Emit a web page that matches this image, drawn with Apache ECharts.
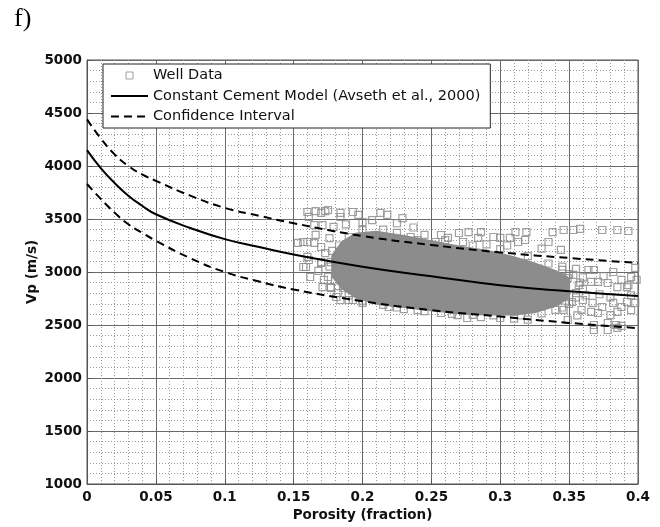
<!DOCTYPE html>
<html>
<head>
<meta charset="utf-8">
<script src="https://cdn.jsdelivr.net/npm/echarts@6/dist/echarts.min.js"></script>
<style>
    html, body { margin: 0; padding: 0; background: #fff; }
    #chart { width: 660px; height: 527px; }
</style>
</head>
<body>
<div id="chart"></div>
<script>
// model curves
var porosityGrid = [0, 0.01, 0.02, 0.03, 0.04, 0.05, 0.075, 0.1, 0.125, 0.15, 0.2, 0.25, 0.3, 0.35, 0.4];
var modelVp = [4150, 3980, 3840, 3720, 3625, 3545, 3415, 3310, 3235, 3165, 3050, 2960, 2875, 2818, 2773];
var upperVp = [4440, 4260, 4110, 4000, 3920, 3860, 3720, 3605, 3530, 3460, 3340, 3255, 3185, 3132, 3085];
var lowerVp = [3830, 3690, 3560, 3450, 3370, 3295, 3130, 3000, 2910, 2835, 2725, 2640, 2580, 2520, 2470];

// outline of the solid grey core of the well-data cloud
var coreTop = [[0.178, 3150], [0.185, 3280], [0.195, 3360], [0.21, 3380], [0.23, 3340], [0.25, 3290],
    [0.27, 3240], [0.29, 3200], [0.31, 3140], [0.325, 3080], [0.34, 3010], [0.35, 2940]];
var coreBottom = [[0.35, 2760], [0.34, 2680], [0.325, 2620], [0.31, 2600], [0.29, 2600], [0.27, 2610],
    [0.25, 2640], [0.23, 2670], [0.21, 2700], [0.195, 2760], [0.185, 2850], [0.178, 2960]];

// single well-data squares around the core
var wellData = [
    [0.160, 3566], [0.166, 3575], [0.173, 3575], [0.175, 3585], [0.184, 3557], [0.193, 3566], [0.197, 3538],
    [0.213, 3557], [0.218, 3538], [0.170, 3557], [0.161, 3520], [0.184, 3519], [0.165, 3443], [0.171, 3443],
    [0.179, 3425], [0.188, 3450], [0.200, 3470], [0.207, 3490], [0.225, 3460], [0.229, 3509], [0.237, 3420],
    [0.153, 3274], [0.157, 3283], [0.160, 3283], [0.165, 3274], [0.170, 3236], [0.173, 3179], [0.160, 3142],
    [0.161, 3113], [0.170, 3094], [0.177, 3094], [0.170, 3085], [0.157, 3047], [0.159, 3047], [0.162, 2953],
    [0.175, 2953], [0.172, 2925], [0.171, 2858], [0.177, 2858], [0.177, 2849], [0.186, 2849], [0.181, 2764],
    [0.184, 2736], [0.190, 2736], [0.193, 2736], [0.200, 2708], [0.219, 2670], [0.166, 3350], [0.176, 3320],
    [0.168, 3010], [0.182, 2800],
    [0.253, 3283], [0.257, 3349], [0.262, 3321], [0.270, 3368], [0.273, 3283], [0.277, 3377], [0.284, 3321],
    [0.286, 3377], [0.295, 3330], [0.300, 3321], [0.307, 3321], [0.311, 3377], [0.313, 3283], [0.245, 3350],
    [0.240, 3300], [0.290, 3260], [0.305, 3250],
    [0.257, 2613], [0.269, 2594], [0.276, 2566], [0.286, 2575], [0.300, 2566], [0.310, 2560], [0.240, 2640],
    [0.230, 2650], [0.320, 2550],
    [0.319, 3377], [0.318, 3302], [0.335, 3283], [0.338, 3377], [0.346, 3396], [0.353, 3396], [0.358, 3406],
    [0.374, 3396], [0.385, 3396], [0.393, 3387], [0.344, 3208], [0.330, 3220],
    [0.364, 3019], [0.368, 3019], [0.382, 3000], [0.395, 2953], [0.388, 2925], [0.371, 2906], [0.378, 2896],
    [0.366, 2906], [0.349, 2943], [0.357, 2877], [0.393, 2877], [0.399, 2925], [0.398, 3038], [0.392, 2858],
    [0.385, 2858], [0.353, 2972], [0.345, 3050], [0.355, 3030], [0.375, 2960],
    [0.342, 2736], [0.352, 2717], [0.360, 2736], [0.367, 2708], [0.374, 2670], [0.382, 2708], [0.388, 2670],
    [0.392, 2717], [0.398, 2708], [0.371, 2613], [0.380, 2594], [0.366, 2623], [0.359, 2642], [0.346, 2642],
    [0.340, 2642], [0.385, 2623], [0.349, 2547], [0.368, 2500], [0.378, 2519], [0.384, 2500], [0.388, 2491],
    [0.368, 2453], [0.378, 2453], [0.385, 2472], [0.355, 2800], [0.362, 2780], [0.372, 2790], [0.395, 2780],
    [0.380, 2760], [0.336, 2700], [0.356, 2590], [0.395, 2640],
    // squares on the ragged rim of the core
    [0.190, 3330], [0.200, 3395], [0.215, 3400], [0.225, 3370], [0.235, 3330], [0.260, 3300], [0.280, 3250],
    [0.300, 3215], [0.320, 3150], [0.335, 3080], [0.345, 3020], [0.350, 2980], [0.360, 2950], [0.358, 2900],
    [0.360, 2840], [0.355, 2760], [0.190, 2780], [0.200, 2730], [0.215, 2690], [0.225, 2665], [0.245, 2630],
    [0.265, 2605], [0.280, 2595], [0.295, 2590], [0.315, 2590], [0.330, 2610], [0.345, 2665], [0.350, 2700],
    [0.178, 3200], [0.176, 3050], [0.180, 2920], [0.183, 3250], [0.186, 2870]
];

var wellName = 'Well Data';
var modelName = 'Constant Cement Model (Avseth et al., 2000)';
var ciName = 'Confidence Interval';

function pairs(xs, ys) {
    return xs.map(function (x, i) { return [x, ys[i]]; });
}

var chart = echarts.init(document.getElementById('chart'));

var axisFont = {
    fontFamily: 'DejaVu Sans',
    fontWeight: 'bold',
    fontSize: 13.5,
    color: '#111'
};
var noDot = { color: 'rgba(0,0,0,0)', borderColor: 'rgba(0,0,0,0)', borderWidth: 0 };

var option = {
    animation: false,
    backgroundColor: '#fff',
    graphic: [{
        type: 'text',
        left: 14,
        top: 6,
        style: {
            text: 'f)',
            font: '26px "Liberation Serif"',
            fill: '#000'
        }
    }],
    grid: {
        left: 87,
        right: 22,
        top: 60,
        bottom: 43,
        show: true,
        borderColor: '#555',
        borderWidth: 1
    },
    legend: {
        orient: 'vertical',
        left: 103,
        top: 64,
        padding: [4, 10, 4, 7],
        itemWidth: 37,
        itemHeight: 7,
        itemGap: 5.5,
        backgroundColor: '#fff',
        borderColor: '#222',
        borderWidth: 1,
        borderRadius: 0,
        textStyle: {
            fontFamily: 'DejaVu Sans',
            fontSize: 14.5,
            color: '#111'
        },
        data: [
            {
                name: wellName,
                icon: 'path://M0,0L10,0L10,10L0,10Z',
                itemStyle: { color: 'rgba(0,0,0,0)', borderColor: '#888', borderWidth: 1 }
            },
            { name: modelName, itemStyle: noDot },
            { name: ciName, itemStyle: noDot }
        ]
    },
    xAxis: {
        type: 'value',
        min: 0,
        max: 0.4,
        interval: 0.05,
        name: 'Porosity (fraction)',
        nameLocation: 'middle',
        nameGap: 24,
        nameMoveOverlap: false,
        nameTextStyle: axisFont,
        axisLine: { show: true, lineStyle: { color: '#555' } },
        axisTick: { show: true, inside: true, length: 5, lineStyle: { color: '#555' } },
        axisLabel: {
            margin: 6,
            fontFamily: axisFont.fontFamily,
            fontWeight: axisFont.fontWeight,
            fontSize: axisFont.fontSize,
            color: axisFont.color,
            formatter: function (v) { return String(parseFloat(v.toFixed(2))); }
        },
        splitLine: { show: true, lineStyle: { color: '#6a6a6a', width: 1 } },
        minorTick: { show: false, splitNumber: 5 },
        minorSplitLine: { show: true, lineStyle: { color: '#9a9a9a', width: 1, type: [1, 2] } }
    },
    yAxis: {
        type: 'value',
        min: 1000,
        max: 5000,
        interval: 500,
        name: 'Vp (m/s)',
        nameLocation: 'middle',
        nameGap: 48,
        nameMoveOverlap: false,
        nameTextStyle: axisFont,
        axisLine: { show: true, lineStyle: { color: '#555' } },
        axisTick: { show: true, inside: true, length: 5, lineStyle: { color: '#555' } },
        axisLabel: {
            margin: 5,
            fontFamily: axisFont.fontFamily,
            fontWeight: axisFont.fontWeight,
            fontSize: axisFont.fontSize,
            color: axisFont.color,
            formatter: function (v) { return String(v); }
        },
        splitLine: { show: true, lineStyle: { color: '#6a6a6a', width: 1 } },
        minorTick: { show: false, splitNumber: 5 },
        minorSplitLine: { show: true, lineStyle: { color: '#9a9a9a', width: 1, type: [1, 2] } }
    },
    series: [
        {
            name: 'core',
            type: 'custom',
            silent: true,
            z: 1,
            data: [[0.25, 3000]],
            renderItem: function (params, api) {
                var pts = coreTop.concat(coreBottom).map(function (p) { return api.coord(p); });
                return {
                    type: 'polygon',
                    shape: { points: pts },
                    style: { fill: '#8c8c8c', stroke: '#8c8c8c', lineWidth: 2 }
                };
            }
        },
        {
            name: wellName,
            type: 'scatter',
            z: 2,
            symbol: 'rect',
            symbolSize: 7,
            itemStyle: { color: 'rgba(0,0,0,0)', borderColor: '#8a8a8a', borderWidth: 1.2 },
            data: wellData
        },
        {
            name: modelName,
            type: 'line',
            z: 5,
            symbol: 'none',
            smooth: 0.5,
            lineStyle: { color: '#000', width: 2 },
            itemStyle: { color: '#000' },
            data: pairs(porosityGrid, modelVp)
        },
        {
            name: ciName,
            type: 'line',
            z: 5,
            symbol: 'none',
            smooth: 0.5,
            lineStyle: { color: '#000', width: 2, type: [8, 5] },
            itemStyle: { color: '#000' },
            data: pairs(porosityGrid, upperVp)
        },
        {
            name: ciName,
            type: 'line',
            z: 5,
            symbol: 'none',
            smooth: 0.5,
            lineStyle: { color: '#000', width: 2, type: [8, 5] },
            itemStyle: { color: '#000' },
            data: pairs(porosityGrid, lowerVp)
        }
    ]
};

chart.setOption(option);
</script>
</body>
</html>
